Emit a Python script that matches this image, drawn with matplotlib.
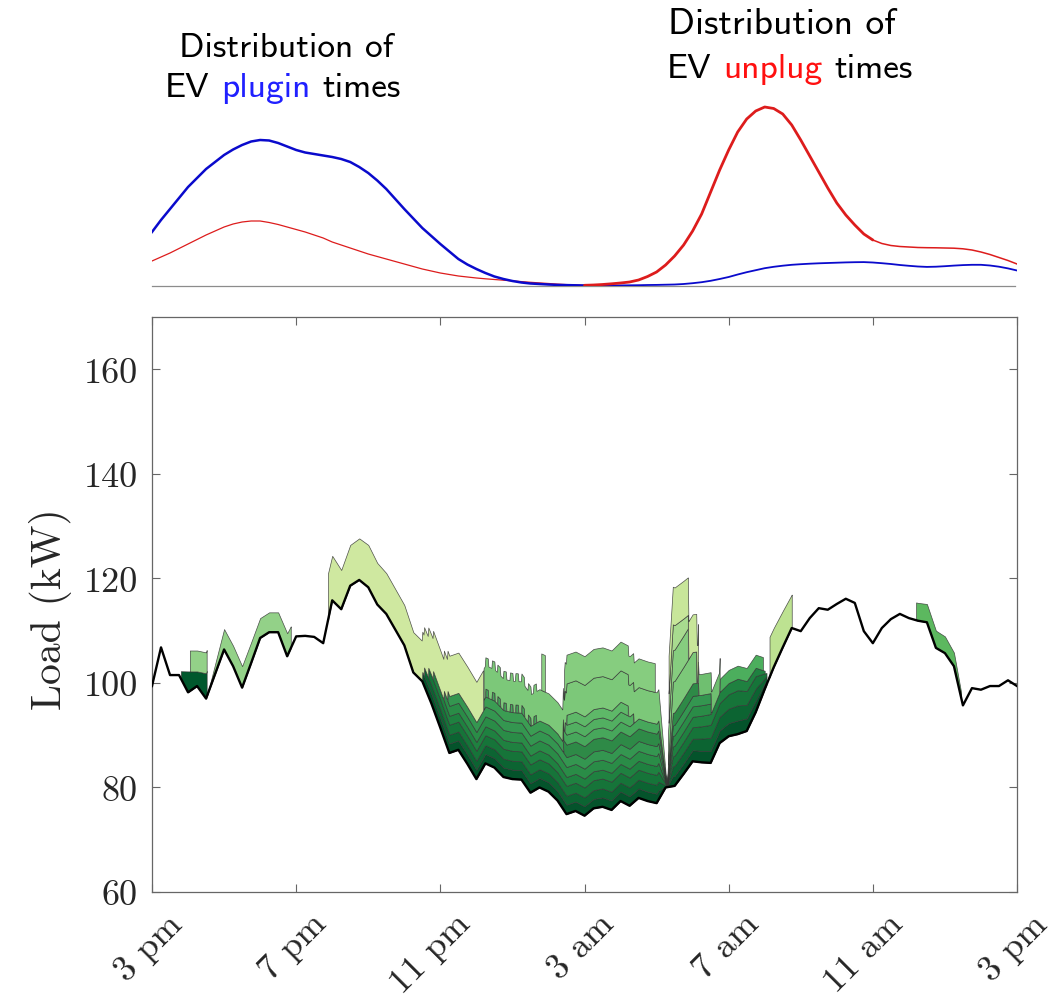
import numpy as np
import matplotlib.pyplot as plt
from matplotlib.transforms import ScaledTranslation

plt.rcParams['axes.formatter.use_mathtext'] = True

# 基準負荷 (15分ごと, 3 pm = 0 h)
base_hours = np.arange(0, 24.25, 0.25)
base_load = [
    99.4, 106.8, 101.5, 101.5, 98.2, 99.4, 97.0, 101.7, 106.4, 103.2,
    99.1, 103.8, 108.6, 109.7, 109.7, 105.1, 108.9, 109.0, 108.8, 107.6,
    115.8, 114.1, 118.6, 119.7, 118.3, 115.0, 113.2, 110.2, 107.2, 102.0,
    100.3, 96.1, 91.4, 86.6, 87.2, 84.5, 81.6, 84.6, 83.8, 82.0,
    81.6, 81.5, 79.0, 80.0, 79.2, 77.5, 74.9, 75.5, 74.6, 76.0,
    76.3, 75.7, 77.4, 76.5, 78.0, 77.4, 77.0, 80.0, 80.3, 82.6,
    85.0, 84.8, 84.7, 88.5, 89.8, 90.2, 90.8, 94.4, 98.8, 103.0,
    106.8, 110.5, 109.9, 112.4, 114.3, 114.0, 115.1, 116.1, 115.3, 109.9,
    107.6, 110.5, 112.2, 113.2, 112.4, 111.9, 111.6, 106.7, 105.7, 103.2,
    95.7, 99.0, 98.7, 99.4, 99.4, 100.5, 99.4,
]

# EVの充電セッション (下から順に積み上げ): 時刻 [h] と 電力 [kW]
ev_hours = [
    [0.80, 1.00, 1.25, 1.52],
    [1.04, 1.52],
    [1.52, 2.00, 2.25, 2.50, 3.00, 3.25, 3.50, 3.75, 3.85],
    [7.50, 14.05, 14.28, 14.45, 16.25, 16.75, 17.06],
    [7.55, 14.05, 14.28, 14.45, 16.25, 16.75, 17.06],
    [7.65, 14.05, 14.28, 14.45, 16.25, 16.75, 17.06],
    [7.80, 14.05, 14.28, 14.45, 16.25, 16.75, 17.00],
    [8.10, 14.05, 14.28, 14.45, 15.50],
    [8.20, 14.05, 14.28, 14.45, 15.50],
    [15.75, 16.95],
    [9.20, 11.40],
    [9.25, 9.33], [9.42, 9.50], [9.58, 9.66], [9.75, 9.83], [9.92, 10.00],
    [10.08, 10.16], [10.25, 10.33], [10.42, 10.50], [10.58, 10.66],
    [11.40, 14.05, 14.28, 14.45, 15.15],
    [11.40, 14.05, 14.28],
    [11.45, 13.35],
    [11.50, 13.20],
    [15.15, 15.75],
    [9.20, 14.05, 14.28, 14.45, 15.10],
    [11.43, 13.95],
    [14.30, 14.88],
    [14.32, 14.88],
    [4.88, 5.25, 5.50, 6.00, 6.50, 7.00, 7.50, 9.19],
    [14.33, 15.15],
    [10.80, 10.90],
    [17.12, 17.75],
    [21.20, 21.50, 21.75, 22.00, 22.25, 22.45],
]
ev_kw = [
    [1.4, 4.0, 2.8, 5.0],
    [4.0, 4.0],
    [0.0, 3.9, 3.9, 4.1, 3.8, 3.8, 3.8, 4.4, 4.2],
    [1.8, 1.8, 0.0, 1.9, 2.6, 2.2, 0.8],
    [1.7, 1.7, 0.0, 1.9, 2.9, 2.3, 0.7],
    [1.9, 1.9, 0.0, 1.9, 2.9, 2.4, 0.6],
    [1.7, 1.7, 0.0, 1.9, 2.2, 1.6, 0.5],
    [1.9, 1.9, 0.0, 2.0, 2.0],
    [1.9, 1.9, 0.0, 2.0, 2.0],
    [2.5, 2.5],
    [1.9, 1.9],
    [1.5, 1.5], [1.5, 1.5], [1.5, 1.5], [1.5, 1.5], [1.5, 1.5],
    [1.5, 1.5], [1.5, 1.5], [1.5, 1.5], [1.5, 1.5],
    [2.4, 2.4, 0.0, 2.4, 2.4],
    [1.9, 1.9, 0.0],
    [1.9, 1.9],
    [1.9, 1.9],
    [4.0, 4.0],
    [6.0, 6.0, 0.0, 6.0, 6.0],
    [5.5, 5.5],
    [6.0, 6.0],
    [5.7, 2.5],
    [9.0, 7.5, 7.8, 8.1, 7.8, 7.7, 7.7, 7.7],
    [7.2, 7.2],
    [7.0, 7.0],
    [7.8, 6.4],
    [3.4, 3.5, 3.3, 3.2, 2.6, 1.0],
]
ev_colors = (
    ['#00582d', '#93d188', '#93d188',
     '#04532b', '#0c6432', '#167439', '#1f8140', '#2a8c47', '#349650',
     '#4cae5d', '#3b9d53']
    + ['#45a55a'] * 9
    + ['#2e8a47', '#47a75b', '#52af61', '#5eb868', '#6fbf70', '#7cc879',
       '#86cd7f', '#86cd7f', '#a8db8f', '#cfe8a0', '#c8e69a', '#8ccf84',
       '#bde291', '#5cb85f']
)

# 上段: プラグイン / アンプラグ時刻の分布 (任意単位, 15分ごと)
dist_hours = np.arange(0, 24.25, 0.25)
plugin_dist = [
    54, 66, 77, 88, 99, 108, 117, 124, 131, 136.5,
    141, 144.5, 146, 145.5, 143, 139.5, 136, 133.5, 132, 130.5,
    129, 127, 124, 119, 113, 105.5, 97, 87, 77, 67.5,
    58, 50, 42, 34.5, 27, 21.5, 17, 13, 9.5, 7,
    5, 3.5, 2.5, 2.0, 1.5, 1.1, 0.9, 0.7, 0.5, 0.5,
    0.5, 0.5, 0.6, 0.7, 0.8, 1.0, 1.1, 1.3, 1.5, 2.0,
    2.8, 3.8, 5.2, 7.0, 9.0, 11.5, 13.8, 15.8, 17.8, 19.2,
    20.3, 21.2, 21.8, 22.3, 22.7, 23.0, 23.3, 23.6, 23.8, 23.9,
    23.5, 22.8, 22.0, 21.0, 20.2, 19.5, 19.1, 19.3, 19.8, 20.4,
    20.9, 21.2, 21.2, 20.5, 19.3, 17.6, 15.5,
]
unplug_dist = [
    25, 29, 33, 37.5, 42, 46.5, 51, 55, 59, 62,
    64, 65, 65, 63.5, 61.5, 59, 56.5, 54, 51, 48,
    44, 41, 38, 35, 32, 29.5, 27, 24.5, 22, 19.5,
    17, 15, 13, 11.5, 10, 9, 8, 7.2, 6.5, 5.8,
    5.1, 4.4, 3.7, 3.1, 2.5, 1.9, 1.4, 1.0, 0.7, 1.0,
    1.5, 2.2, 3.0, 4.0, 6.0, 9.5, 14, 21, 30, 41,
    55, 72, 94, 116, 136, 154, 167, 175, 179, 177.5,
    172, 161, 146, 130, 114, 98, 83, 71, 61, 52,
    46, 42.5, 40.5, 39.5, 39, 38.5, 38.3, 38.2, 38, 37.8,
    37.2, 36, 34, 31.5, 28.5, 25.5, 22,
]

tick_hours = [0, 4, 8, 12, 16, 20, 24]
tick_labels = ['3 pm', '7 pm', '11 pm', '3 am', '7 am', '11 am', '3 pm']

W, H = 1060, 1003
fig = plt.figure(figsize=(W / 100, H / 100), dpi=100)

# ---- 下段: 負荷 ----
ax = fig.add_axes([152 / W, 110 / H, 865 / W, 575 / H])
t = np.linspace(0, 24, 24 * 60 + 1)
base_t = np.interp(t, base_hours, base_load)
stack = np.zeros_like(t)
for hrs, kw, col in zip(ev_hours, ev_kw, ev_colors):
    on = (t >= hrs[0]) & (t <= hrs[-1])
    p = np.where(on, np.interp(t, hrs, kw), 0.0)
    lo = base_t + stack
    ax.fill_between(t, lo, lo + p, where=p > 0, facecolor=col,
                    edgecolor=(0.2, 0.2, 0.2, 0.85), linewidth=0.5)
    stack = stack + p
ax.plot(base_hours, base_load, color='black', lw=1.7, zorder=5)

ax.set_xlim(0, 24)
ax.set_ylim(60, 170)
ax.set_yticks([60, 80, 100, 120, 140, 160])
ax.set_yticklabels(['60', '80', '100', '120', '140', '160'],
                   fontsize=26, fontfamily='cmr10')
ax.set_xticks(tick_hours)
ax.set_xticklabels(tick_labels, rotation=45, ha='right', va='top',
                   rotation_mode='anchor', fontsize=26, fontfamily='cmr10')
for s in ax.spines.values():
    s.set_color('#666666')
    s.set_linewidth(0.9)
ax.tick_params(direction='in', length=6, width=0.8, color='#666666',
               top=True, right=True, labelcolor='#262626')
ax.xaxis.set_tick_params(pad=11)
ax.yaxis.set_tick_params(pad=10)
for lab in ax.get_xticklabels():
    lab.set_transform(lab.get_transform()
                      + ScaledTranslation(10 / 72, 0, fig.dpi_scale_trans))
ax.set_ylabel('Load (kW)', fontsize=30, fontfamily='cmr10', color='#262626')
ax.yaxis.set_label_coords(-0.093, 0.494)

# ---- 上段: 分布 ----
ax2 = fig.add_axes([152 / W, (H - 287) / H, 865 / W, 200 / H])
ax2.set_xlim(0, 24)
ax2.set_ylim(0, 200)
ax2.axis('off')
ax2.plot([0, 23.95], [0, 0], color='#8c8c8c', lw=0.9, clip_on=False)
dh = np.array(dist_hours)
pl = np.array(plugin_dist)
up = np.array(unplug_dist)
left = dh <= 12
mid = (dh >= 12) & (dh <= 20)
late = dh >= 20
right = dh >= 12
ax2.plot(dh[left], up[left], color='#dd1c1c', lw=0.9)
ax2.plot(dh[right], pl[right], color='#0a0acc', lw=1.3)
ax2.plot(dh[left], pl[left], color='#0a0acc', lw=1.8)
ax2.plot(dh[mid], up[mid], color='#dd1c1c', lw=2.0,
         solid_capstyle='round')
ax2.plot(dh[late], up[late], color='#dd1c1c', lw=1.1)


def colored_line(xc, yb, parts, size=25.5):
    texts = [fig.text(0, (H - yb) / H, s, color=c, fontsize=size,
                      family='cmss10', va='baseline') for s, c in parts]
    full = fig.text(0, 0, ' '.join(s for s, _ in parts), fontsize=size,
                    family='cmss10')
    r = fig.canvas.get_renderer()
    widths = [tx.get_window_extent(r).width for tx in texts]
    wfull = full.get_window_extent(r).width
    full.remove()
    gap = (wfull - sum(widths)) / max(len(parts) - 1, 1)
    x0 = xc - wfull / 2
    for tx, w in zip(texts, widths):
        tx.set_x(x0 / W)
        x0 += w + gap


colored_line(286, 57, [('Distribution of', 'black')])
colored_line(283, 97, [('EV', 'black'), ('plugin', '#2020ff'),
                       ('times', 'black')])
colored_line(782, 34, [('Distribution of', 'black')], size=27)
colored_line(790, 78, [('EV', 'black'), ('unplug', '#ff1010'),
                       ('times', 'black')])

fig.savefig('out.png', dpi=100)
